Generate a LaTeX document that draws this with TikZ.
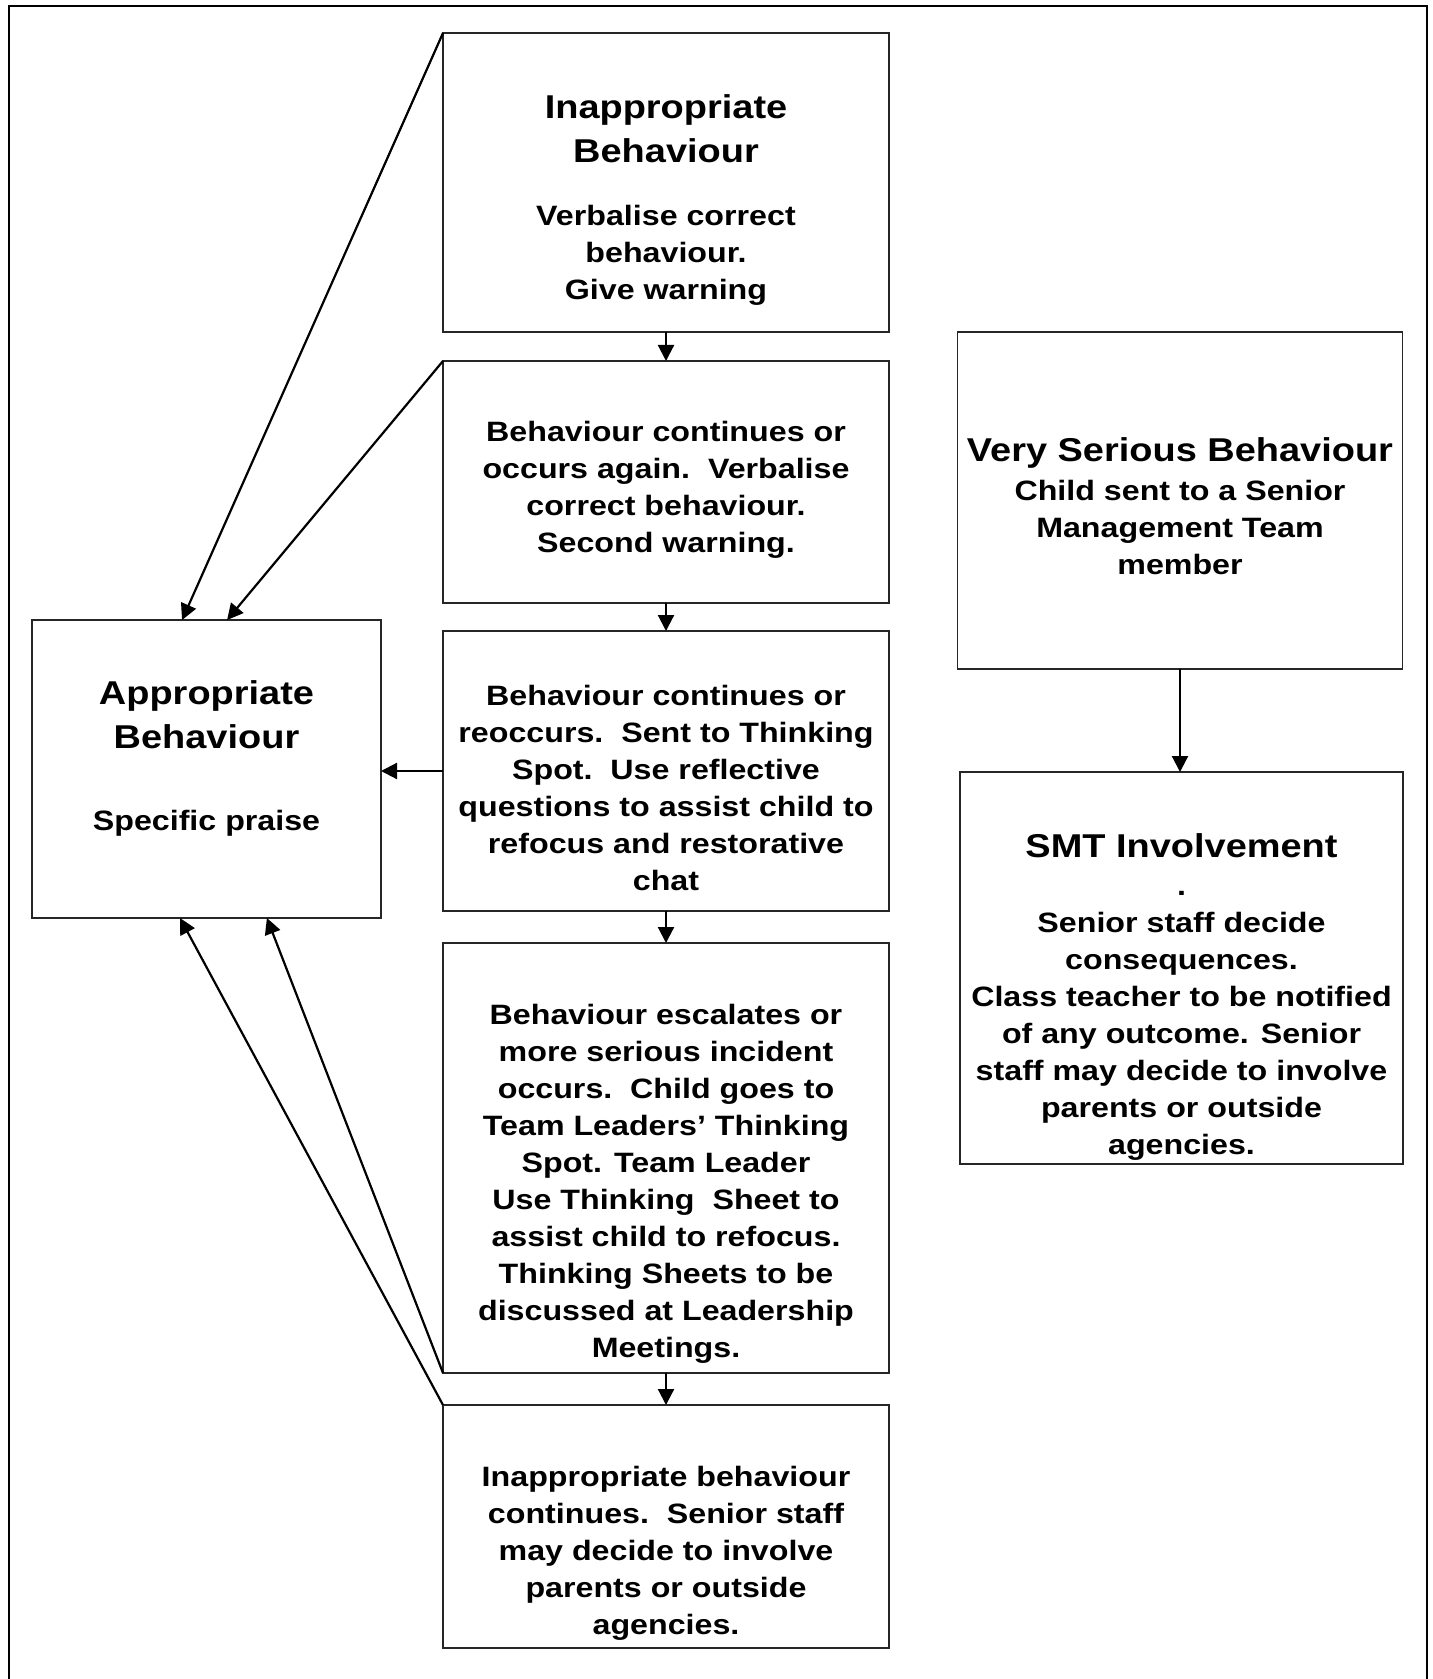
\documentclass[tikz,border=0pt]{standalone}
\usepackage{fontspec}
\setmainfont{Liberation Sans}[FakeStretch=1.15]
\usetikzlibrary{arrows.meta,calc}
\newcommand\bodyfnt{\fontsize{14}{18.5}\selectfont\bfseries}
\newcommand\headfnt{\fontsize{16.5}{22}\selectfont\bfseries}
\tikzset{
  box/.style={draw=black!85, line width=0.6pt, inner sep=0pt, outer sep=0pt},
  body/.style={font=\bodyfnt, align=center, inner sep=0pt},
  head/.style={font=\headfnt, align=center, inner sep=0pt},
  arr/.style={line width=1.1pt, -{Triangle[length=8pt,width=8pt]}},
  frame/.style={line width=1pt}
}
\begin{document}
\begin{tikzpicture}[x=0.5pt,y=-0.5pt]
\useasboundingbox (0,0) rectangle (1433,1679);
\draw[frame] (9,1679) -- (9,6) -- (1427,6) -- (1427,1679);
% boxes
\node[box, minimum width=223pt, minimum height=149.5pt] (b1) at (666,182.5) {};
\node[box, minimum width=223pt, minimum height=121pt] (b2) at (666,482) {};
\node[box, minimum width=223pt, minimum height=140pt] (b3) at (666,771) {};
\node[box, minimum width=223pt, minimum height=215pt] (b4) at (666,1158) {};
\node[box, minimum width=223pt, minimum height=121.5pt] (b5) at (666,1526.5) {};
\node[box, minimum width=174.5pt, minimum height=149pt] (app) at (206.5,769) {};
\node[box, minimum width=222.75pt, minimum height=168.5pt] (vsb) at (1180,500.5) {};
\node[box, minimum width=221.5pt, minimum height=196pt] (smt) at (1181.5,968) {};
% texts
\node[head] (t1h) at (666,132) {\strut Inappropriate\\Behaviour\strut};
\node[body] (t1b) at (666,255) {\strut Verbalise correct\\behaviour.\\Give warning\strut};
\node[body] (t2) at (666,490) {\strut Behaviour continues or\\occurs again.\ \ Verbalise\\correct behaviour.\\Second warning.\strut};
\node[body] (t3) at (666,791) {\strut Behaviour continues or\\reoccurs.\ \ Sent to Thinking\\Spot.\ \ Use reflective\\questions to assist child to\\refocus and restorative\\chat\strut};
\node[body] (t4) at (666,1184) {\strut Behaviour escalates or\\more serious incident\\occurs.\ \ Child goes to\\Team Leaders’ Thinking\\Spot. Team Leader\\Use Thinking\ \ Sheet to\\assist child to refocus.\\Thinking Sheets to be\\discussed at Leadership\\Meetings.\strut};
\node[body] (t5) at (666,1553.5) {\strut Inappropriate behaviour\\continues.\ \ Senior staff\\may decide to involve\\parents or outside\\agencies.\strut};
\node[head] (tah) at (206.5,718) {\strut Appropriate\\Behaviour\strut};
\node[body] (tab) at (206.5,823) {\strut Specific praise\strut};
\node[head] (tvh) at (1180,453) {\strut Very Serious Behaviour\strut};
\node[body] (tvb) at (1180,530) {\strut Child sent to a Senior\\Management Team\\member\strut};
\node[head] (tsh) at (1181.5,849) {\strut SMT Involvement\strut};
\node[body] (tsb) at (1181.5,1018) {\strut .\\Senior staff decide\\consequences.\\Class teacher to be notified\\of any outcome. Senior\\staff may decide to involve\\parents or outside\\agencies.\strut};
% connectors
\draw[arr] (b1.south) -- (b2.north);
\draw[arr] (b2.south) -- (b3.north);
\draw[arr] (b3.south) -- (b4.north);
\draw[arr] (b4.south) -- (b5.north);
\draw[arr] (vsb.south) -- (vsb.south |- smt.north);
\draw[arr] (b3.west) -- (b3.west -| app.east);
\draw[arr] (b1.north west) -- ($(app.north west)!0.43!(app.north east)$);
\draw[arr] (b2.north west) -- ($(app.north west)!0.559!(app.north east)$);
\draw[arr] (b4.south west) -- ($(app.south west)!0.673!(app.south east)$);
\draw[arr] (b5.north west) -- ($(app.south west)!0.424!(app.south east)$);
\end{tikzpicture}
\end{document}
